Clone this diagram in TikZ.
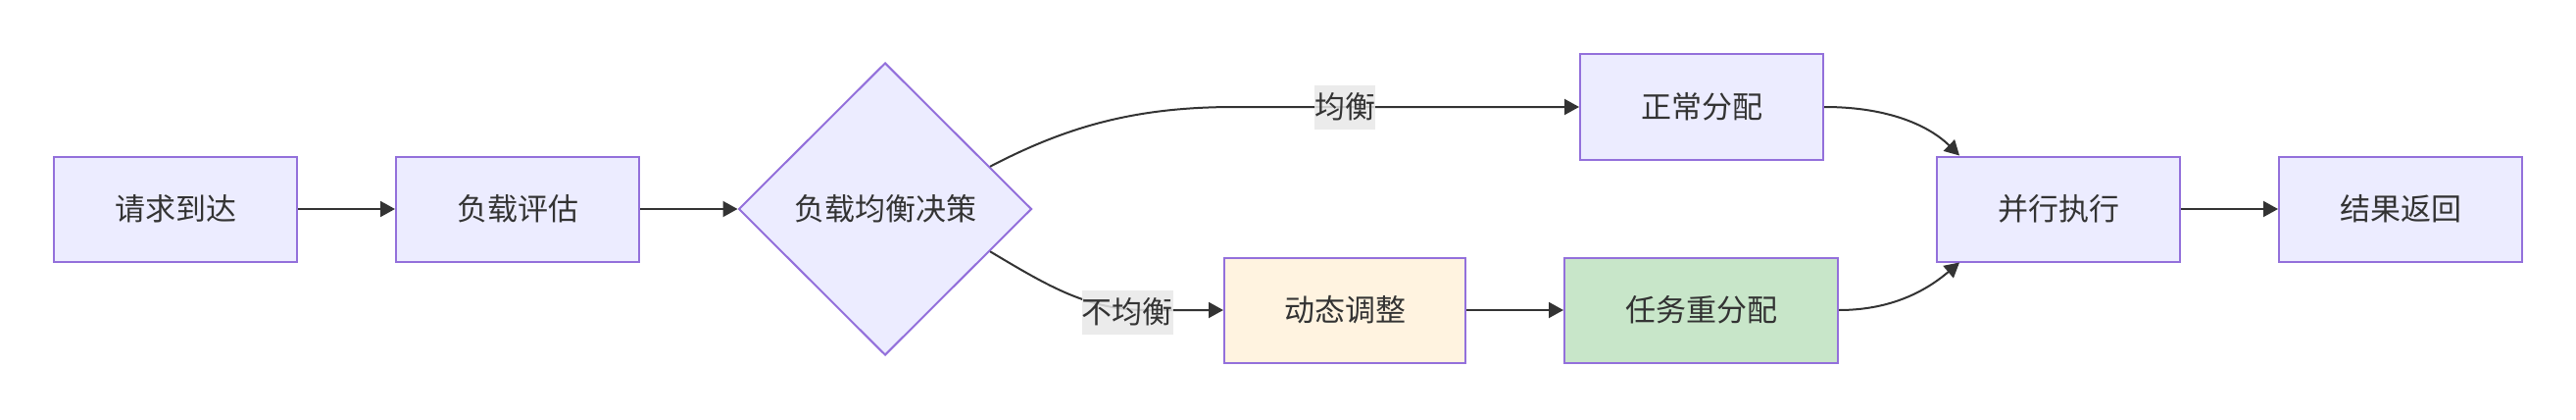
\documentclass[tikz,border=0pt]{standalone}
\usepackage{fontspec}
\setmainfont{Noto Sans CJK SC}
\usetikzlibrary{arrows.meta,shapes.geometric}
\definecolor{nodefill}{HTML}{ECECFF}
\definecolor{nodedraw}{HTML}{9370DB}
\definecolor{txt}{HTML}{333333}
\definecolor{orangefill}{HTML}{FFF3E0}
\definecolor{greenfill}{HTML}{C8E6C9}
\definecolor{lblfill}{HTML}{E8E8E8}
\begin{document}
\begin{tikzpicture}[x=1pt,y=-1pt,
 lblfont/.style={font=\fontsize{31pt}{37pt}\selectfont},
 box/.style={draw=nodedraw,fill=nodefill,line width=2pt,minimum width=248pt,minimum height=107pt,inner sep=0pt,text=txt,lblfont},
 dec/.style={shape=diamond,draw=nodedraw,fill=nodefill,line width=2pt,minimum width=299pt,minimum height=298pt,inner sep=0pt,text=txt,lblfont},
 lbl/.style={fill=lblfill,fill opacity=0.85,text opacity=1,text=txt,inner sep=0pt,minimum height=45pt,lblfont},
 edge/.style={draw=txt,line width=2pt,-{Triangle[length=15pt,width=16pt]}}]
\useasboundingbox (0,0) rectangle (2628,428);
\node[box] (a) at (179,213) {请求到达};
\node[box] (b) at (528,213) {负载评估};
\node[dec] (c) at (903,213) {负载均衡决策};
\node[box] (d) at (1736,109) {正常分配};
\node[box,fill=orangefill,minimum width=246pt] (e) at (1372,316) {动态调整};
\node[box,fill=greenfill,minimum width=279pt] (f) at (1735.5,316) {任务重分配};
\node[box] (g) at (2100,213) {并行执行};
\node[box] (h) at (2449,213) {结果返回};
\draw[edge] (a) -- (b);
\draw[edge] (b) -- (c);
\draw[edge] (c.22) .. controls (1090,128) and (1160,109) .. (1260,109) -- (d.west);
\node[lbl] (l1) at (1372,109) {均衡};
\draw[edge] (c.-22) .. controls (1070,292) and (1110,316) .. (1170,316) -- (e.west);
\node[lbl] (l2) at (1150,318) {不均衡};
\draw[edge] (e) -- (f);
\draw[edge] (d.east) .. controls (1930,109) and (1970,130) .. ([xshift=24pt]g.north west);
\draw[edge] (f.east) .. controls (1935,316) and (1970,292) .. ([xshift=24pt]g.south west);
\draw[edge] (g) -- (h);
\end{tikzpicture}
\end{document}
